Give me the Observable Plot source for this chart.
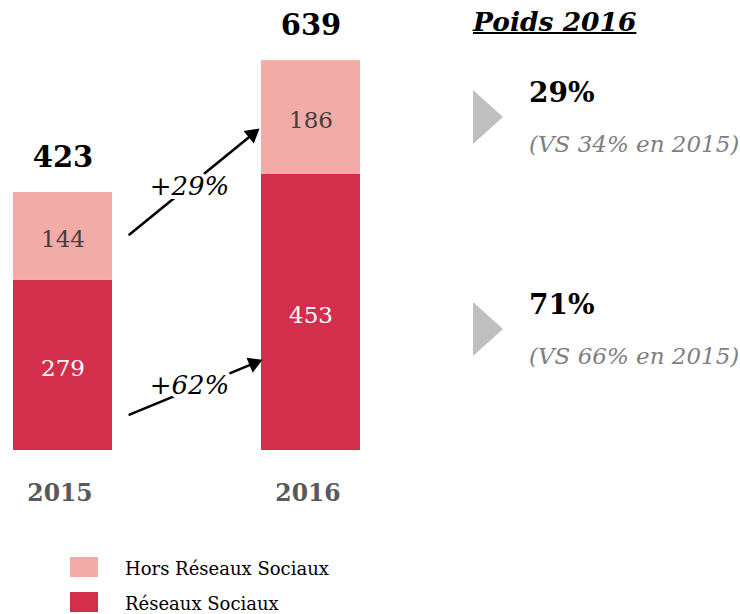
<!DOCTYPE html>
<html><head><meta charset="utf-8">
<script src="https://cdn.jsdelivr.net/npm/d3@7"></script>
<script src="https://cdn.jsdelivr.net/npm/@observablehq/plot@0.6"></script>
<style>
body{margin:0;background:#fff;font-family:"DejaVu Serif",serif;}
#wrap{position:relative;width:740px;height:614px;overflow:hidden;background:#fff;}
#wrap svg{position:absolute;left:0;top:0;}
.abs{position:absolute;white-space:nowrap;line-height:1;}
</style></head><body><div id="wrap"></div>
<script>
// ---- data ----
const years = ["2015", "2016"];
const series = ["Réseaux Sociaux", "Hors Réseaux Sociaux"];
const reseaux = [279, 453];
const hors = [144, 186];
const colors = ["#D32F4C", "#F2ABA6"];
const panelTitle = "Poids 2016";

// ---- derived ----
const table = years.flatMap((y, i) => [
  {year: y, series: series[0], value: reseaux[i]},
  {year: y, series: series[1], value: hors[i]}
]);
const totals = years.map((y, i) => ({year: y, total: reseaux[i] + hors[i]}));
const pct = v => Math.round(v * 100) + "%";
const growth = [
  "+" + pct(hors[1] / hors[0] - 1),
  "+" + pct(reseaux[1] / reseaux[0] - 1)
];
const share16 = [pct(hors[1] / totals[1].total), pct(reseaux[1] / totals[1].total)];
const share15 = [pct(hors[0] / totals[0].total), pct(reseaux[0] / totals[0].total)];

// arrow annotations (values in data units)
const arrows = [
  {from: years[0], to: years[1], v1: 265.2, v2: 596.6, head: 518.2, rot: 50.8, inS: 85.8, inE: 75.7, hdx: -58.7},
  {from: years[0], to: years[1], v1: 13.9, v2: 181.5, head: 142.8, rot: 67.5, inS: 72, inE: 61.8, hdx: -57.1}
];

const font = "DejaVu Serif";
const marks = [
  Plot.barY(table, {x: "year", y: "value", fill: "series"}),
  Plot.text(table, Plot.stackY({x: "year", y: "value",
    text: d => d.series === series[0] ? String(d.value) : "", fill: "white", fontSize: 23, dy: 3})),
  Plot.text(table, Plot.stackY({x: "year", y: "value",
    text: d => d.series === series[1] ? String(d.value) : "", fill: "#404040", fontSize: 23, dy: 3})),
  Plot.text(totals, {x: "year", y: "total", text: "total", dy: -35, fontSize: 29, fontWeight: "bold", fill: "black"}),
  Plot.axisX({tickSize: 0, tickPadding: 34, fontSize: 23.5, fontWeight: "bold", color: "#595959", label: null, dx: -3})
];
arrows.forEach(a => {
  marks.push(Plot.arrow([a], {x1: "from", y1: "v1", x2: "to", y2: "v2", insetStart: a.inS, insetEnd: a.inE,
    headLength: 0, stroke: "black", strokeWidth: 2.6}));
  marks.push(Plot.dot([a], {x: "to", y: "head", dx: a.hdx, symbol: "triangle", r: 6, fill: "black", stroke: "none", rotate: "rot"}));
});
marks.push(Plot.text(growth, {x: () => years[0], y: [432.8, 106.6], text: d => d, dx: 126.5,
  fontSize: 26, fontStyle: "italic", fill: "black", stroke: "white", strokeWidth: 8}));

const chart = Plot.plot({
  width: 740, height: 540,
  marginTop: 0, marginLeft: 0, marginRight: 0, marginBottom: 90,
  style: {fontFamily: font, background: "white", overflow: "visible"},
  x: {domain: years, range: [13, 360.2], paddingInner: 0.6, paddingOuter: 0, axis: null},
  y: {domain: [0, 700], range: [450, 23], axis: null},
  color: {domain: series, range: colors},
  marks
});
const wrap = document.getElementById("wrap");
wrap.appendChild(chart);

function addText(txt, left, top, size, css) {
  const d = document.createElement("div");
  d.className = "abs";
  d.textContent = txt;
  d.style.left = left + "px"; d.style.top = top + "px"; d.style.fontSize = size + "px";
  Object.assign(d.style, css || {});
  wrap.appendChild(d);
  return d;
}
function addTri(left, top) {
  const d = document.createElement("div");
  d.className = "abs";
  Object.assign(d.style, {left: left + "px", top: top + "px", width: 0, height: 0,
    borderLeft: "30px solid #BFBFBF", borderTop: "27.5px solid transparent", borderBottom: "27.5px solid transparent"});
  wrap.appendChild(d);
}
// right panel
addText(panelTitle, 473, 8.6, 26.5, {fontWeight: "bold", fontStyle: "italic", textDecoration: "underline", textDecorationThickness: "2px", color: "#000"});
[0, 1].forEach(i => {
  const off = i * 212;
  addTri(473, 90 + off);
  addText(share16[i], 529, 79.3 + off, 28, {fontWeight: "bold", color: "#000"});
  addText("(VS " + share15[i] + " en " + years[0] + ")", 529, 132.5 + off, 23, {fontStyle: "italic", color: "#7F7F7F"});
});
// legend
[[1, 557, 559.8], [0, 592, 594.8]].forEach(([k, sy, ty]) => {
  const s = document.createElement("div");
  s.className = "abs";
  Object.assign(s.style, {left: "70px", top: sy + "px", width: "28px", height: "20px", background: colors[k]});
  wrap.appendChild(s);
  addText(series[k], 125, ty, 18, {color: "#000"});
});
</script></body></html>
